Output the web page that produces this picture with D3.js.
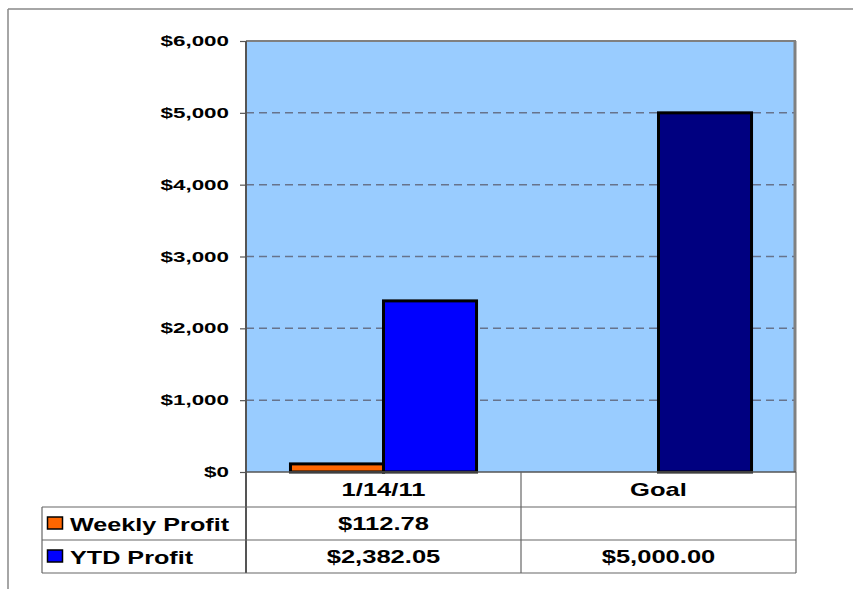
<!DOCTYPE html>
<html><head><meta charset="utf-8">
<script src="https://cdn.jsdelivr.net/npm/d3@7"></script>
<style>
html,body{margin:0;padding:0;background:#fff;}
svg{display:block;}
text{font-family:"Liberation Sans",Arial,sans-serif;font-weight:bold;fill:#000;}
</style></head>
<body>
<script>
const categories = ["1/14/11", "Goal"];
const seriesNames = ["Weekly Profit", "YTD Profit"];
const weeklyProfit = [112.78, null];
const ytdProfit = [2382.05, 5000];
const weeklyLabels = ["$112.78", ""];
const ytdLabels = ["$2,382.05", "$5,000.00"];
const yTicks = [0, 1000, 2000, 3000, 4000, 5000, 6000];
const weeklyColors = ["#FF6600", "#FF6600"];
const ytdColors = ["#0000FF", "#000080"];

(function () {
const W = 853, H = 589;
const svg = d3.select("body").append("svg").attr("width", W).attr("height", H);

const pLeft = 246, pRight = 796, pTop = 41, pBottom = 472;
const tableLeft = 42;
const rowY = [472, 507, 540, 573];

const y = d3.scaleLinear().domain([0, 6000]).range([pBottom, pTop]);
const x0 = d3.scaleBand().domain(categories).range([pLeft, pRight]).padding(0);
const x1 = d3.scaleBand().domain(seriesNames).range([0, x0.bandwidth()]).paddingInner(0).paddingOuter(0.478);

const fmt = d => "$" + d3.format(",")(d);

function stext(g, str, x, yy, size, sx, anchor) {
  return g.append("text")
    .attr("transform", `translate(${x},${yy}) scale(${sx},1)`)
    .attr("text-anchor", anchor)
    .attr("dy", "0.36em")
    .style("font-size", size + "px")
    .text(str);
}

// outer frame
svg.append("line").attr("x1", 8).attr("x2", W).attr("y1", 9).attr("y2", 9).attr("stroke", "#888").attr("stroke-width", 1.5);
svg.append("line").attr("x1", 8).attr("x2", 8).attr("y1", 9).attr("y2", H).attr("stroke", "#888").attr("stroke-width", 1.5);

// plot area
svg.append("rect").attr("x", pLeft).attr("y", pTop).attr("width", pRight - pLeft).attr("height", pBottom - pTop).attr("fill", "#99CCFF");
svg.append("line").attr("x1", pLeft).attr("x2", pRight).attr("y1", pTop).attr("y2", pTop).attr("stroke", "#808080").attr("stroke-width", 2);
svg.append("line").attr("x1", pRight - 1).attr("x2", pRight - 1).attr("y1", pTop).attr("y2", pBottom).attr("stroke", "#808080").attr("stroke-width", 3);

// gridlines
svg.append("g").selectAll("line").data(yTicks.filter(t => t > 0 && t < 6000)).join("line")
  .attr("x1", pLeft).attr("x2", pRight - 2)
  .attr("y1", d => y(d)).attr("y2", d => y(d))
  .attr("stroke", "#67738c").attr("stroke-width", 1.5).attr("stroke-dasharray", "8,5");

// bars
const barG = svg.append("g");
categories.forEach((c, i) => {
  const vals = [weeklyProfit[i], ytdProfit[i]];
  const cols = [weeklyColors[i], ytdColors[i]];
  seriesNames.forEach((s, j) => {
    if (vals[j] == null) return;
    barG.append("rect")
      .attr("x", x0(c) + x1(s))
      .attr("width", x1.bandwidth())
      .attr("y", y(vals[j]))
      .attr("height", y(0) - y(vals[j]))
      .attr("fill", cols[j])
      .attr("stroke", "#000").attr("stroke-width", 3);
  });
});

// y axis
const yAxis = d3.axisLeft(y).tickValues(yTicks).tickSize(6).tickFormat("");
const ax = svg.append("g").attr("transform", `translate(${pLeft},0)`).call(yAxis);
ax.select(".domain").remove();
ax.selectAll(".tick line").attr("stroke", "#555").attr("stroke-width", 1.2);
const labG = svg.append("g");
yTicks.forEach(t => stext(labG, fmt(t), 229, y(t), 14, 1.6, "end"));
svg.append("line").attr("x1", pLeft).attr("x2", pLeft).attr("y1", pTop).attr("y2", rowY[3]).attr("stroke", "#555").attr("stroke-width", 2);

// data table
const tg = svg.append("g");
const lc = "#666";
tg.append("line").attr("x1", pLeft).attr("x2", pRight).attr("y1", rowY[0]).attr("y2", rowY[0]).attr("stroke", "#555").attr("stroke-width", 1.5);
[1, 2, 3].forEach(k => tg.append("line").attr("x1", tableLeft).attr("x2", pRight).attr("y1", rowY[k]).attr("y2", rowY[k]).attr("stroke", lc).attr("stroke-width", 1.2));
tg.append("line").attr("x1", tableLeft).attr("x2", tableLeft).attr("y1", rowY[1]).attr("y2", rowY[3]).attr("stroke", lc).attr("stroke-width", 1.2);
categories.forEach(c => {
  tg.append("line").attr("x1", x0(c) + x0.bandwidth()).attr("x2", x0(c) + x0.bandwidth())
    .attr("y1", rowY[0]).attr("y2", rowY[3]).attr("stroke", lc).attr("stroke-width", 1.2);
});
categories.forEach((c, i) => {
  const cx = x0(c) + x0.bandwidth() / 2;
  stext(tg, c, cx, (rowY[0] + rowY[1]) / 2 + 0.5, 18, 1.42, "middle");
  stext(tg, weeklyLabels[i], cx, (rowY[1] + rowY[2]) / 2, 18, 1.42, "middle");
  stext(tg, ytdLabels[i], cx, (rowY[2] + rowY[3]) / 2, 18, 1.42, "middle");
});
const legendColors = [weeklyColors[0], ytdColors[0]];
seriesNames.forEach((s, k) => {
  const cy = (rowY[k + 1] + rowY[k + 2]) / 2;
  tg.append("rect").attr("x", 47.5).attr("y", cy - 6.5).attr("width", 15).attr("height", 12)
    .attr("fill", legendColors[k]).attr("stroke", "#000").attr("stroke-width", 1.5);
  stext(tg, s, 70, cy + 1, 18, 1.4, "start");
});
})();
</script>
</body></html>
